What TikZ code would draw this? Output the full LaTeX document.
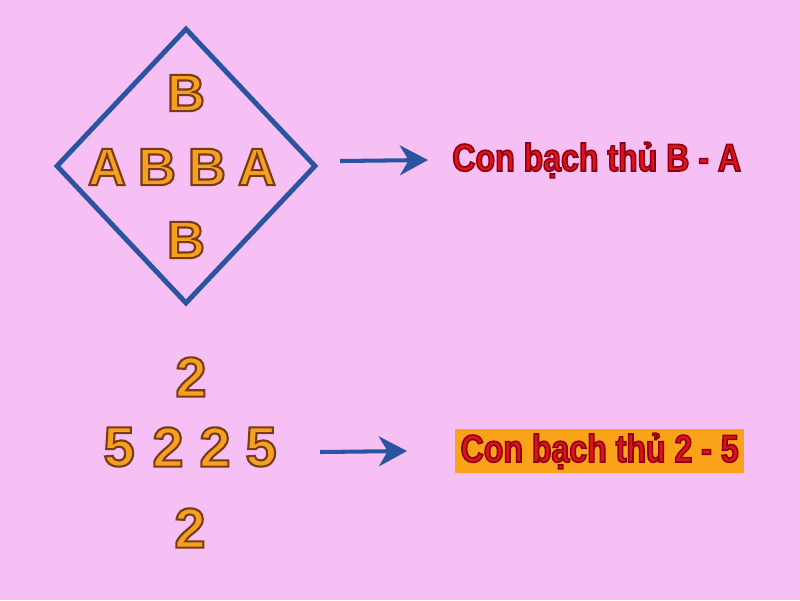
\documentclass[tikz,border=0pt]{standalone}
\usepackage{fontspec}
\setmainfont{Liberation Sans}
\newfontfamily\slimfont{Liberation Sans}[FakeStretch=0.83]
\usetikzlibrary{arrows.meta,shapes.geometric,positioning}

\definecolor{bgpink}{RGB}{247,192,245}
\definecolor{glyphorange}{RGB}{245,160,32}
\definecolor{framblue}{RGB}{42,84,160}
\definecolor{textred}{RGB}{224,18,30}
\definecolor{boxorange}{RGB}{250,162,26}

\newcommand\rimbrown[1]{\special{pdf:literal direct 0.47 0.23 0.08 RG 1.2 w 2 Tr}#1\special{pdf:literal direct 0 Tr}}
\newcommand\rimred[1]{\special{pdf:literal direct 0.55 0 0.06 RG 0.9 w 2 Tr}#1\special{pdf:literal direct 0 Tr}}

\tikzset{
  glyph/.style={inner sep=0pt, text=glyphorange, font=\bfseries\fontsize{30}{30}\selectfont},
  digit/.style={glyph, font=\bfseries\fontsize{32}{32}\selectfont},
  verdict/.style={inner sep=0pt, text=textred, font=\slimfont\bfseries\fontsize{22}{22}\selectfont},
  pointer/.style={-{Stealth[length=16pt,width=17pt,inset=5pt]}, line width=2.3pt, draw=framblue}
}

\begin{document}
\begin{tikzpicture}[x=0.02cm, y=-0.02cm]
      \fill[bgpink] (0,0) rectangle (800,600);
      \useasboundingbox (0,0) rectangle (800,600);
      \node[diamond, draw=framblue, line width=2.8pt, minimum width=5.2cm, minimum height=5.52cm, inner sep=0pt] (frame) at (186,166) {};
      \node[glyph] (bt) at (186,93) {\rimbrown{B}};
      \node[glyph] (r1) at (107,167) {\rimbrown{A}};
      \node[glyph] (r2) at (157,167) {\rimbrown{B}};
      \node[glyph] (r3) at (207,167) {\rimbrown{B}};
      \node[glyph] (r4) at (257,167) {\rimbrown{A}};
      \node[glyph] (bb) at (186,240) {\rimbrown{B}};
      \node[verdict, anchor=west] (ba) at (452,160) {\rimred{Con bạch thủ B - A}};
      \coordinate (ba-tail) at (340,161);
      \draw[pointer] (ba-tail) -- ([xshift=-0.48cm]ba.west);

      \node[digit] (nt) at (191,377) {\rimbrown{2}};
      \node[digit] (n1) at (119,447) {\rimbrown{5}};
      \node[digit] (n2) at (168,447) {\rimbrown{2}};
      \node[digit] (n3) at (215,447) {\rimbrown{2}};
      \node[digit] (n4) at (261,447) {\rimbrown{5}};
      \node[digit] (nb) at (190,528) {\rimbrown{2}};
      \node[verdict, fill=boxorange, inner xsep=3pt, minimum height=0.88cm, anchor=west] (tf) at (455,451) {\rimred{Con bạch thủ 2 - 5}};
      \coordinate (tf-tail) at (320,452);
      \draw[pointer] (tf-tail) -- ([xshift=-0.96cm]tf.west);
    \end{tikzpicture}
\end{document}
